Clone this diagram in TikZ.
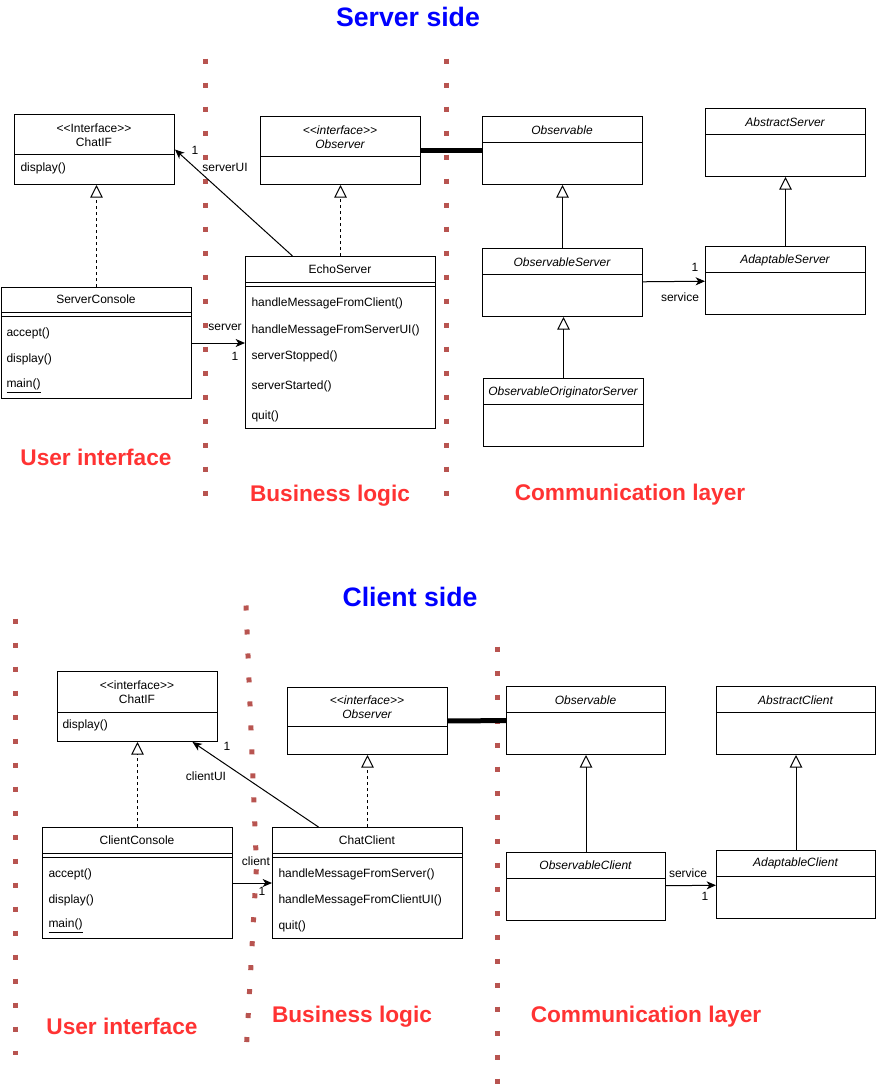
\documentclass[tikz,border=0pt]{standalone}
\usepackage{fontspec}
\setmainfont{Liberation Sans}
\usetikzlibrary{arrows.meta}
\definecolor{layerred}{HTML}{B85450}
\definecolor{labelred}{HTML}{FF3333}
\definecolor{sideblue}{HTML}{0000FF}
\tikzstyle{classbox} = [rectangle, draw=black, fill=white, anchor=north west, inner sep=0pt,
minimum width=120pt, minimum height=51pt]
\tikzstyle{classname} = [font=\fontsize{9}{10.5}\selectfont, align=center, inner sep=0pt]
\tikzstyle{abstractname} = [classname, font=\fontsize{9}{10.5}\selectfont\itshape]
\tikzstyle{method} = [font=\fontsize{9}{10.5}\selectfont, anchor=west, inner sep=0pt]
\tikzstyle{rolelabel} = [font=\fontsize{9}{10.5}\selectfont, inner sep=0pt]
\tikzstyle{inherit} = [-{Triangle[open, length=9.5pt, width=9.5pt]}]
\tikzstyle{realize} = [inherit, dash pattern=on 2.25pt off 2.25pt]
\tikzstyle{assoc} = [-{Stealth[length=7pt, width=6pt, inset=2pt]}]
\tikzstyle{link} = [line width=3.75pt]
\tikzstyle{layerline} = [draw=layerred, line width=3.75pt, dash pattern=on 3.75pt off 14.25pt]
\tikzstyle{sidetitle} = [font=\fontsize{20}{24}\selectfont\bfseries, text=sideblue]
\tikzstyle{layer} = [font=\fontsize{17}{20}\selectfont\bfseries, text=labelred]

\begin{document}
\begin{tikzpicture}[x=0.75pt, y=-0.75pt, line width=0.75pt]
\useasboundingbox (0,0) rectangle (877,1089);

% layer separators
\draw [layerline] (205.5,58.5) -- (205.5,496);
\draw [layerline] (446,58.5) -- (446,496);
\draw [layerline] (15,618.5) -- (15,1055);
\draw [layerline] (246,605.5) -- (256.5,866) -- (246,1055);
\draw [layerline] (497,646.5) -- (497,1085);

% ---------------- server side ----------------
\node (stitle) [sidetitle] at (408,17) {Server side};

\node (sif) [classbox, minimum height=52.5pt] at (14,114) {};
\draw (sif.north west) ++(0,40) -- ++(160,0);
\node (siftext) [classname] at (94,135) {<{}<Interface>{}>\\ChatIF};
\node (sifm1) [method] at (20,168) {display()};

\node (sobs) [classbox] at (260,116) {};
\draw (sobs.north west) ++(0,40) -- ++(160,0);
\node (sobstext) [abstractname] at (340,137) {<{}<interface>{}>\\Observer};

\node (sc) [classbox, minimum width=142.5pt, minimum height=83.25pt] at (1,287) {};
\draw (sc.north west) ++(0,25) -- ++(190,0);
\draw (sc.north west) ++(0,29) -- ++(190,0);
\node (sctext) [classname] at (96,299) {ServerConsole};
\node (scm1) [method] at (6,333) {accept()};
\node (scm2) [method] at (6,359) {display()};
\node (scm3) [method] at (6,386) {\underline{main()}};

\node (echo) [classbox, minimum width=142.5pt, minimum height=129pt] at (245,256) {};
\draw (echo.north west) ++(0,26) -- ++(190,0);
\draw (echo.north west) ++(0,30) -- ++(190,0);
\node (echotext) [classname] at (340,269) {EchoServer};
\node (echom1) [method] at (251,303) {handleMessageFromClient()};
\node (echom2) [method] at (251,330) {handleMessageFromServerUI()};
\node (echom3) [method] at (251,356) {serverStopped()};
\node (echom4) [method] at (251,386) {serverStarted()};
\node (echom5) [method] at (251,416) {quit()};

\node (sobl) [classbox] at (482,116) {};
\draw (sobl.north west) ++(0,26) -- ++(160,0);
\node (sobltext) [abstractname] at (562,130) {Observable};

\node (absv) [classbox] at (705,108) {};
\draw (absv.north west) ++(0,26) -- ++(160,0);
\node (absvtext) [abstractname] at (785,122) {AbstractServer};

\node (sos) [classbox] at (482,248) {};
\draw (sos.north west) ++(0,26) -- ++(160,0);
\node (sostext) [abstractname] at (562,262) {ObservableServer};

\node (ads) [classbox] at (705,246) {};
\draw (ads.north west) ++(0,26) -- ++(160,0);
\node (adstext) [abstractname] at (785,260) {AdaptableServer};

\node (oos) [classbox] at (483,378) {};
\draw (oos.north west) ++(0,26) -- ++(160,0);
\node (oostext) [abstractname] at (563,392) {ObservableOriginatorServer};

\draw [realize] (sc.north) -- (sc.north |- sif.south);
\draw [realize] (echo.north) -- (sobs.south);
\draw [assoc] ([xshift=-36pt]echo.north) -- (sif.east);
\node (l1) [rolelabel] at (195,150) {1};
\node (l2) [rolelabel] at (225,167) {serverUI};
\draw [assoc] (sc.east) -- (sc.east -| echo.west);
\node (l3) [rolelabel] at (225,327) {server};
\node (l4) [rolelabel] at (235,356) {1};
\draw [link] (sobs) -- (sobl);
\draw [inherit] (sos) -- (sobl);
\draw [inherit] (ads) -- (absv);
\draw [inherit] (oos.north) -- (oos.north |- sos.south);
\draw [assoc] (sos) -- (ads);
\node (l5) [rolelabel] at (695,267) {1};
\node (l6) [rolelabel] at (680,297) {service};

\node (sui) [layer] at (96,457) {User interface};
\node (sbl) [layer] at (330,496) {Business logic};
\node (scl) [layer] at (630,495) {Communication layer};

% ---------------- client side ----------------
\node (ctitle) [sidetitle] at (410,597) {Client side};

\node (cif) [classbox, minimum height=52.5pt] at (57,671) {};
\draw (cif.north west) ++(0,41) -- ++(160,0);
\node (ciftext) [classname] at (137,692) {<{}<interface>{}>\\ChatIF};
\node (cifm1) [method] at (62,725) {display()};

\node (cobs) [classbox, minimum height=50.25pt] at (287,687) {};
\draw (cobs.north west) ++(0,39) -- ++(160,0);
\node (cobstext) [abstractname] at (367,707) {<{}<interface>{}>\\Observer};

\node (cc) [classbox, minimum width=142.5pt, minimum height=83.25pt] at (42,827) {};
\draw (cc.north west) ++(0,26) -- ++(190,0);
\draw (cc.north west) ++(0,30) -- ++(190,0);
\node (cctext) [classname] at (137,840) {ClientConsole};
\node (ccm1) [method] at (48,874) {accept()};
\node (ccm2) [method] at (48,900) {display()};
\node (ccm3) [method] at (48,926) {\underline{main()}};

\node (ccl) [classbox, minimum width=142.5pt, minimum height=83.25pt] at (272,827) {};
\draw (ccl.north west) ++(0,26) -- ++(190,0);
\draw (ccl.north west) ++(0,30) -- ++(190,0);
\node (ccltext) [classname] at (367,840) {ChatClient};
\node (cclm1) [method] at (278,874) {handleMessageFromServer()};
\node (cclm2) [method] at (278,900) {handleMessageFromClientUI()};
\node (cclm3) [method] at (278,926) {quit()};

\node (cobl) [classbox, minimum width=119.25pt] at (506,686) {};
\draw (cobl.north west) ++(0,26) -- ++(159,0);
\node (cobltext) [abstractname] at (585.5,700) {Observable};

\node (acb) [classbox, minimum width=119.25pt] at (716,686) {};
\draw (acb.north west) ++(0,26) -- ++(159,0);
\node (acbtext) [abstractname] at (795.5,700) {AbstractClient};

\node (ocl) [classbox, minimum width=119.25pt] at (506,852) {};
\draw (ocl.north west) ++(0,26) -- ++(159,0);
\node (ocltext) [abstractname] at (585.5,865) {ObservableClient};

\node (acl) [classbox, minimum width=119.25pt] at (716,850) {};
\draw (acl.north west) ++(0,26) -- ++(159,0);
\node (acltext) [abstractname] at (795.5,863) {AdaptableClient};

\draw [realize] (cc) -- (cif);
\draw [realize] (ccl) -- (cobs);
\draw [assoc] ([xshift=-36.75pt]ccl.north) -- ([xshift=41.25pt]cif.south);
\node (l7) [rolelabel] at (227,746) {1};
\node (l8) [rolelabel] at (206,776) {clientUI};
\draw [assoc] (cc) -- (ccl);
\node (l9) [rolelabel] at (256,861) {client};
\node (l10) [rolelabel] at (262,891) {1};
\draw [link] (cobs) -- (cobl);
\draw [inherit] (ocl) -- (cobl);
\draw [inherit] (acl) -- (acb);
\draw [assoc] (ocl) -- (acl);
\node (l11) [rolelabel] at (688,873) {service};
\node (l12) [rolelabel] at (705,896) {1};

\node (cui) [layer] at (122,1026) {User interface};
\node (cbl) [layer] at (352,1017) {Business logic};
\node (ccll) [layer] at (646,1017) {Communication layer};

\end{tikzpicture}
\end{document}
